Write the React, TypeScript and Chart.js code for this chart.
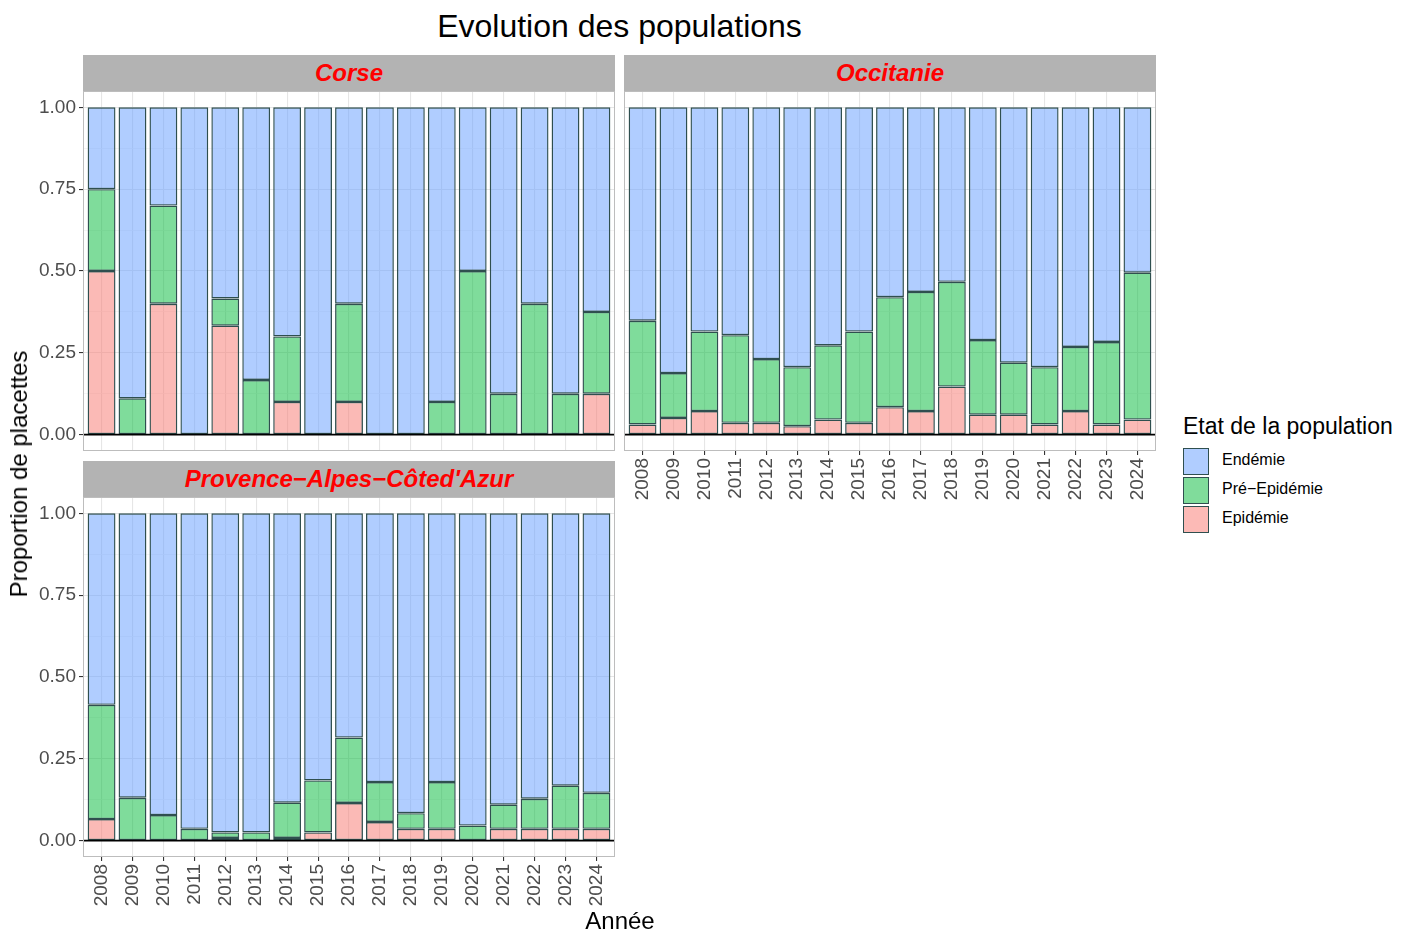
import React, { useEffect, useRef } from "react";
import { Chart, registerables } from "chart.js";

Chart.register(...registerables);

const YEARS = ["2008", "2009", "2010", "2011", "2012", "2013", "2014", "2015", "2016", "2017", "2018", "2019", "2020", "2021", "2022", "2023", "2024"];

const CORSE_EPIDEMIE = [0.5, 0, 0.4, 0, 0.333, 0, 0.1, 0, 0.1, 0, 0, 0, 0, 0, 0, 0, 0.125];
const CORSE_PRE = [0.25, 0.111, 0.3, 0, 0.083, 0.167, 0.2, 0, 0.3, 0, 0, 0.1, 0.5, 0.125, 0.4, 0.125, 0.25];
const CORSE_ENDEMIE = [0.25, 0.889, 0.3, 1, 0.584, 0.833, 0.7, 1, 0.6, 1, 1, 0.9, 0.5, 0.875, 0.6, 0.875, 0.625];

const OCC_EPIDEMIE = [0.031, 0.051, 0.072, 0.036, 0.036, 0.026, 0.046, 0.036, 0.084, 0.072, 0.147, 0.061, 0.061, 0.031, 0.072, 0.031, 0.046];
const OCC_PRE = [0.317, 0.137, 0.243, 0.268, 0.195, 0.18, 0.227, 0.279, 0.336, 0.364, 0.32, 0.228, 0.159, 0.175, 0.196, 0.252, 0.449];
const OCC_ENDEMIE = [0.652, 0.812, 0.685, 0.696, 0.769, 0.794, 0.727, 0.685, 0.58, 0.564, 0.533, 0.711, 0.78, 0.794, 0.732, 0.717, 0.505];

const PACA_EPIDEMIE = [0.066, 0, 0, 0, 0.008, 0, 0.008, 0.025, 0.115, 0.057, 0.036, 0.036, 0, 0.036, 0.036, 0.036, 0.036];
const PACA_PRE = [0.349, 0.131, 0.078, 0.036, 0.017, 0.025, 0.108, 0.159, 0.2, 0.122, 0.048, 0.143, 0.046, 0.074, 0.092, 0.132, 0.11];
const PACA_ENDEMIE = [0.585, 0.869, 0.922, 0.964, 0.975, 0.975, 0.884, 0.816, 0.685, 0.821, 0.916, 0.821, 0.954, 0.89, 0.872, 0.832, 0.854];

const Y_MAJOR = [0, 0.25, 0.5, 0.75, 1];
const Y_MINOR = [0.125, 0.375, 0.625, 0.875];

const SERIES_NAMES = ["Epidémie", "Pré−Epidémie", "Endémie"];
const SERIES_FILLS = ["rgba(248,118,109,0.5)", "rgba(0,186,56,0.5)", "rgba(97,156,255,0.5)"];
const LEGEND_FILLS = ["#FCBAB6", "#80DC9B", "#B0CDFF"];
const BAR_BORDER = "#2F4F4F";
const FONT = "'Liberation Sans', Arial, sans-serif";

const isMajor = (v: number) => Y_MAJOR.some((m) => Math.abs(m - v) < 1e-6);

const panelDecor = {
  id: "panelDecor",
  afterDatasetsDraw(chart: any) {
    const { ctx, chartArea: a, scales } = chart;
    ctx.save();
    const y0 = scales.y.getPixelForValue(0);
    ctx.strokeStyle = "#000";
    ctx.lineWidth = 1.8;
    ctx.beginPath();
    ctx.moveTo(a.left, y0);
    ctx.lineTo(a.right, y0);
    ctx.stroke();
    ctx.strokeStyle = "#bdbdbd";
    ctx.lineWidth = 1;
    ctx.strokeRect(a.left + 0.5, a.top + 0.5, a.width - 1, a.height - 1);
    ctx.restore();
  },
};

type PanelProps = {
  left: number;
  top: number;
  width: number;
  height: number;
  yAxisWidth: number;
  xAxisHeight: number;
  showY: boolean;
  showX: boolean;
  epi: number[];
  pre: number[];
  end: number[];
};

function Panel(p: PanelProps) {
  const ref = useRef<HTMLCanvasElement>(null);
  useEffect(() => {
    if (!ref.current) return;
    const series = [p.epi, p.pre, p.end];
    const chart = new Chart(ref.current, {
      type: "bar",
      data: {
        datasets: series.map((vals, k) => ({
          label: SERIES_NAMES[k],
          data: vals.map((v, i) => ({ x: i + 1, y: v })),
          backgroundColor: SERIES_FILLS[k],
          borderColor: BAR_BORDER,
          borderWidth: 1.4,
          borderSkipped: false,
          categoryPercentage: 1,
          barPercentage: 0.9,
        })),
      },
      options: {
        animation: false,
        responsive: false,
        devicePixelRatio: 1,
        layout: { padding: 0 },
        plugins: { legend: { display: false }, tooltip: { enabled: false }, title: { display: false } },
        scales: {
          x: {
            type: "linear",
            stacked: true,
            offset: false,
            min: 0.4,
            max: 17.6,
            afterBuildTicks: (s: any) => {
              s.ticks = YEARS.map((_, i) => ({ value: i + 1 }));
            },
            afterFit: (s: any) => {
              s.height = p.xAxisHeight;
              s.paddingLeft = 0;
              s.paddingRight = 0;
              s.paddingTop = 0;
              s.paddingBottom = 0;
            },
            border: { display: false },
            grid: {
              offset: false,
              color: "#e6e6e6",
              lineWidth: 1.1,
              drawTicks: p.showX,
              tickLength: 4,
              tickColor: "#333333",
            },
            ticks: {
              display: p.showX,
              autoSkip: false,
              minRotation: 90,
              maxRotation: 90,
              padding: 3,
              color: "#4D4D4D",
              font: { family: FONT, size: 19 },
              callback: (v: any) => YEARS[Math.round(Number(v)) - 1] ?? "",
            },
          },
          y: {
            type: "linear",
            stacked: true,
            min: -0.05,
            max: 1.05,
            afterBuildTicks: (s: any) => {
              s.ticks = [...Y_MAJOR, ...Y_MINOR].sort((a, b) => a - b).map((v) => ({ value: v }));
            },
            afterFit: (s: any) => {
              s.width = p.yAxisWidth;
              s.paddingLeft = 0;
              s.paddingRight = 0;
              s.paddingTop = 0;
              s.paddingBottom = 0;
            },
            border: { display: false },
            grid: {
              color: (c: any) => (c.tick && isMajor(c.tick.value) ? "#e6e6e6" : "#f1f1f1"),
              lineWidth: (c: any) => (c.tick && isMajor(c.tick.value) ? 1.1 : 0.7),
              drawTicks: p.showY,
              tickLength: 4,
              tickColor: (c: any) => (c.tick && isMajor(c.tick.value) ? "#333333" : "rgba(0,0,0,0)"),
            },
            ticks: {
              display: p.showY,
              padding: 3,
              color: "#4D4D4D",
              font: { family: FONT, size: 19 },
              callback: (v: any) => (isMajor(Number(v)) ? Number(v).toFixed(2) : ""),
            },
          },
        },
      },
      plugins: [panelDecor],
    } as any);
    return () => chart.destroy();
  }, []);
  return (
    <canvas
      ref={ref}
      width={p.width}
      height={p.height}
      style={{ position: "absolute", left: p.left, top: p.top, width: p.width, height: p.height }}
    />
  );
}

function Strip({ left, top, width, height, text }: { left: number; top: number; width: number; height: number; text: string }) {
  return (
    <div
      style={{
        position: "absolute",
        left,
        top,
        width,
        height,
        background: "#B3B3B3",
        display: "flex",
        alignItems: "center",
        justifyContent: "center",
        color: "#FF0000",
        fontFamily: FONT,
        fontWeight: "bold",
        fontStyle: "italic",
        fontSize: 24,
        lineHeight: "24px",
      }}
    >
      {text}
    </div>
  );
}

export default function App() {
  const legendOrder = [2, 1, 0];
  return (
    <div style={{ position: "absolute", left: 0, top: 0, width: 1408, height: 932, background: "#fff", overflow: "hidden", fontFamily: FONT }}>
      <div style={{ position: "absolute", left: 83, top: 10, width: 1073, textAlign: "center", fontSize: 32, lineHeight: "32px", color: "#000" }}>
        Evolution des populations
      </div>

      <Strip left={83} top={55} width={532} height={36} text="Corse" />
      <Strip left={624} top={55} width={532} height={36} text="Occitanie" />
      <Strip left={83} top={461} width={532} height={36} text="Provence−Alpes−Côted'Azur" />

      <Panel left={20} top={91} width={595} height={360} yAxisWidth={63} xAxisHeight={0} showY={true} showX={false}
        epi={CORSE_EPIDEMIE} pre={CORSE_PRE} end={CORSE_ENDEMIE} />
      <Panel left={624} top={91} width={532} height={416} yAxisWidth={0} xAxisHeight={56} showY={false} showX={true}
        epi={OCC_EPIDEMIE} pre={OCC_PRE} end={OCC_ENDEMIE} />
      <Panel left={20} top={497} width={595} height={416} yAxisWidth={63} xAxisHeight={56} showY={true} showX={true}
        epi={PACA_EPIDEMIE} pre={PACA_PRE} end={PACA_ENDEMIE} />

      <div
        style={{
          position: "absolute",
          left: 19,
          top: 474,
          transform: "translate(-50%, -50%) rotate(-90deg)",
          whiteSpace: "nowrap",
          fontSize: 24,
          lineHeight: "24px",
          color: "#000",
        }}
      >
        Proportion de placettes
      </div>

      <div style={{ position: "absolute", left: 520, top: 909, width: 200, textAlign: "center", fontSize: 24, lineHeight: "24px", color: "#000" }}>
        Année
      </div>

      <div style={{ position: "absolute", left: 1183, top: 415, fontSize: 23, lineHeight: "23px", color: "#000", whiteSpace: "nowrap" }}>
        Etat de la population
      </div>
      {legendOrder.map((k, j) => (
        <React.Fragment key={k}>
          <div
            style={{
              position: "absolute",
              left: 1183,
              top: 448 + j * 29,
              width: 24,
              height: 25,
              background: LEGEND_FILLS[k],
              border: `1.5px solid ${BAR_BORDER}`,
            }}
          />
          <div
            style={{
              position: "absolute",
              left: 1222,
              top: 452 + j * 29,
              fontSize: 16,
              lineHeight: "16px",
              color: "#000",
              whiteSpace: "nowrap",
            }}
          >
            {SERIES_NAMES[k]}
          </div>
        </React.Fragment>
      ))}
    </div>
  );
}
